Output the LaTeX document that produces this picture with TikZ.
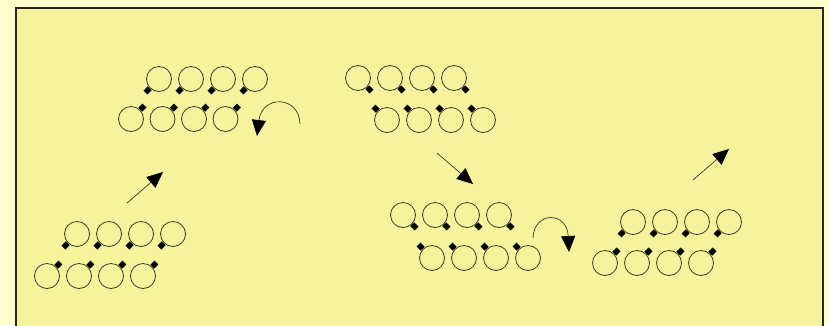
\documentclass[tikz,border=0pt]{standalone}
\usetikzlibrary{arrows.meta,calc}
\definecolor{outerbg}{HTML}{FFFFCC}
\definecolor{panelbg}{HTML}{F7F39C}
\definecolor{ink}{HTML}{3A3826}
\tikzset{
  bead/.style={circle,draw=ink,line width=0.8pt,minimum size=25pt,inner sep=0pt},
  handle/.style={line width=5.5pt,black},
  flow/.style={draw=ink,line width=0.7pt,-{Triangle[length=16pt,width=14pt,fill=black,color=black]}},
}
% one row of four beads, each with a short stub at the given angle
\newcommand{\beadrow}[5]{% prefix, first x, y, stub angle, spacing
  \foreach \k in {1,...,4}{
    \node[bead] (#1\k) at ({#2+(\k-1)*#5},#3) {};
    \draw[handle] ($(#1\k.center)!1.02!(#1\k.#4)$) -- ($(#1\k.center)!1.48!(#1\k.#4)$);
  }%
}
\begin{document}
\begin{tikzpicture}[x=1pt,y=-1pt]
  \useasboundingbox (0,0) rectangle (829,325);
  \clip (0,0) rectangle (829,325);
  \fill[outerbg] (0,0) rectangle (829,325);
  \draw[fill=panelbg,draw=black!85,line width=1.1pt] (16,8) rectangle (823,340);

  % upper left pair of rows
  \beadrow{at}{159}{79}{225}{32}
  \beadrow{ab}{131}{119}{45}{31.5}
  % upper middle pair of rows
  \beadrow{bt}{358}{78}{315}{32}
  \beadrow{bb}{387}{120}{135}{32}
  % lower left pair of rows
  \beadrow{ct}{77}{234}{225}{32}
  \beadrow{cb}{47}{276}{45}{32}
  % lower middle pair of rows
  \beadrow{dt}{403}{215}{315}{32}
  \beadrow{db}{432}{258}{135}{32}
  % lower right pair of rows
  \beadrow{et}{633}{222}{225}{32}
  \beadrow{eb}{605}{263}{45}{32}

  % straight arrows
  \coordinate (s1) at (127,203); \coordinate (t1) at (163,172);
  \coordinate (s2) at (437,153); \coordinate (t2) at (473,184);
  \coordinate (s3) at (693,180); \coordinate (t3) at (729,149);
  \draw[flow] (s1) -- (t1);
  \draw[flow] (s2) -- (t2);
  \draw[flow] (s3) -- (t3);

  % turning arrows
  \coordinate (r1) at (300,124); \coordinate (q1) at (257,136);
  \coordinate (r2) at (533,238); \coordinate (q2) at (569,252);
  \draw[flow] (r1) .. controls (299,95) and (262,95) .. (q1);
  \draw[flow] (r2) .. controls (534,211) and (567,211) .. (q2);
\end{tikzpicture}
\end{document}
